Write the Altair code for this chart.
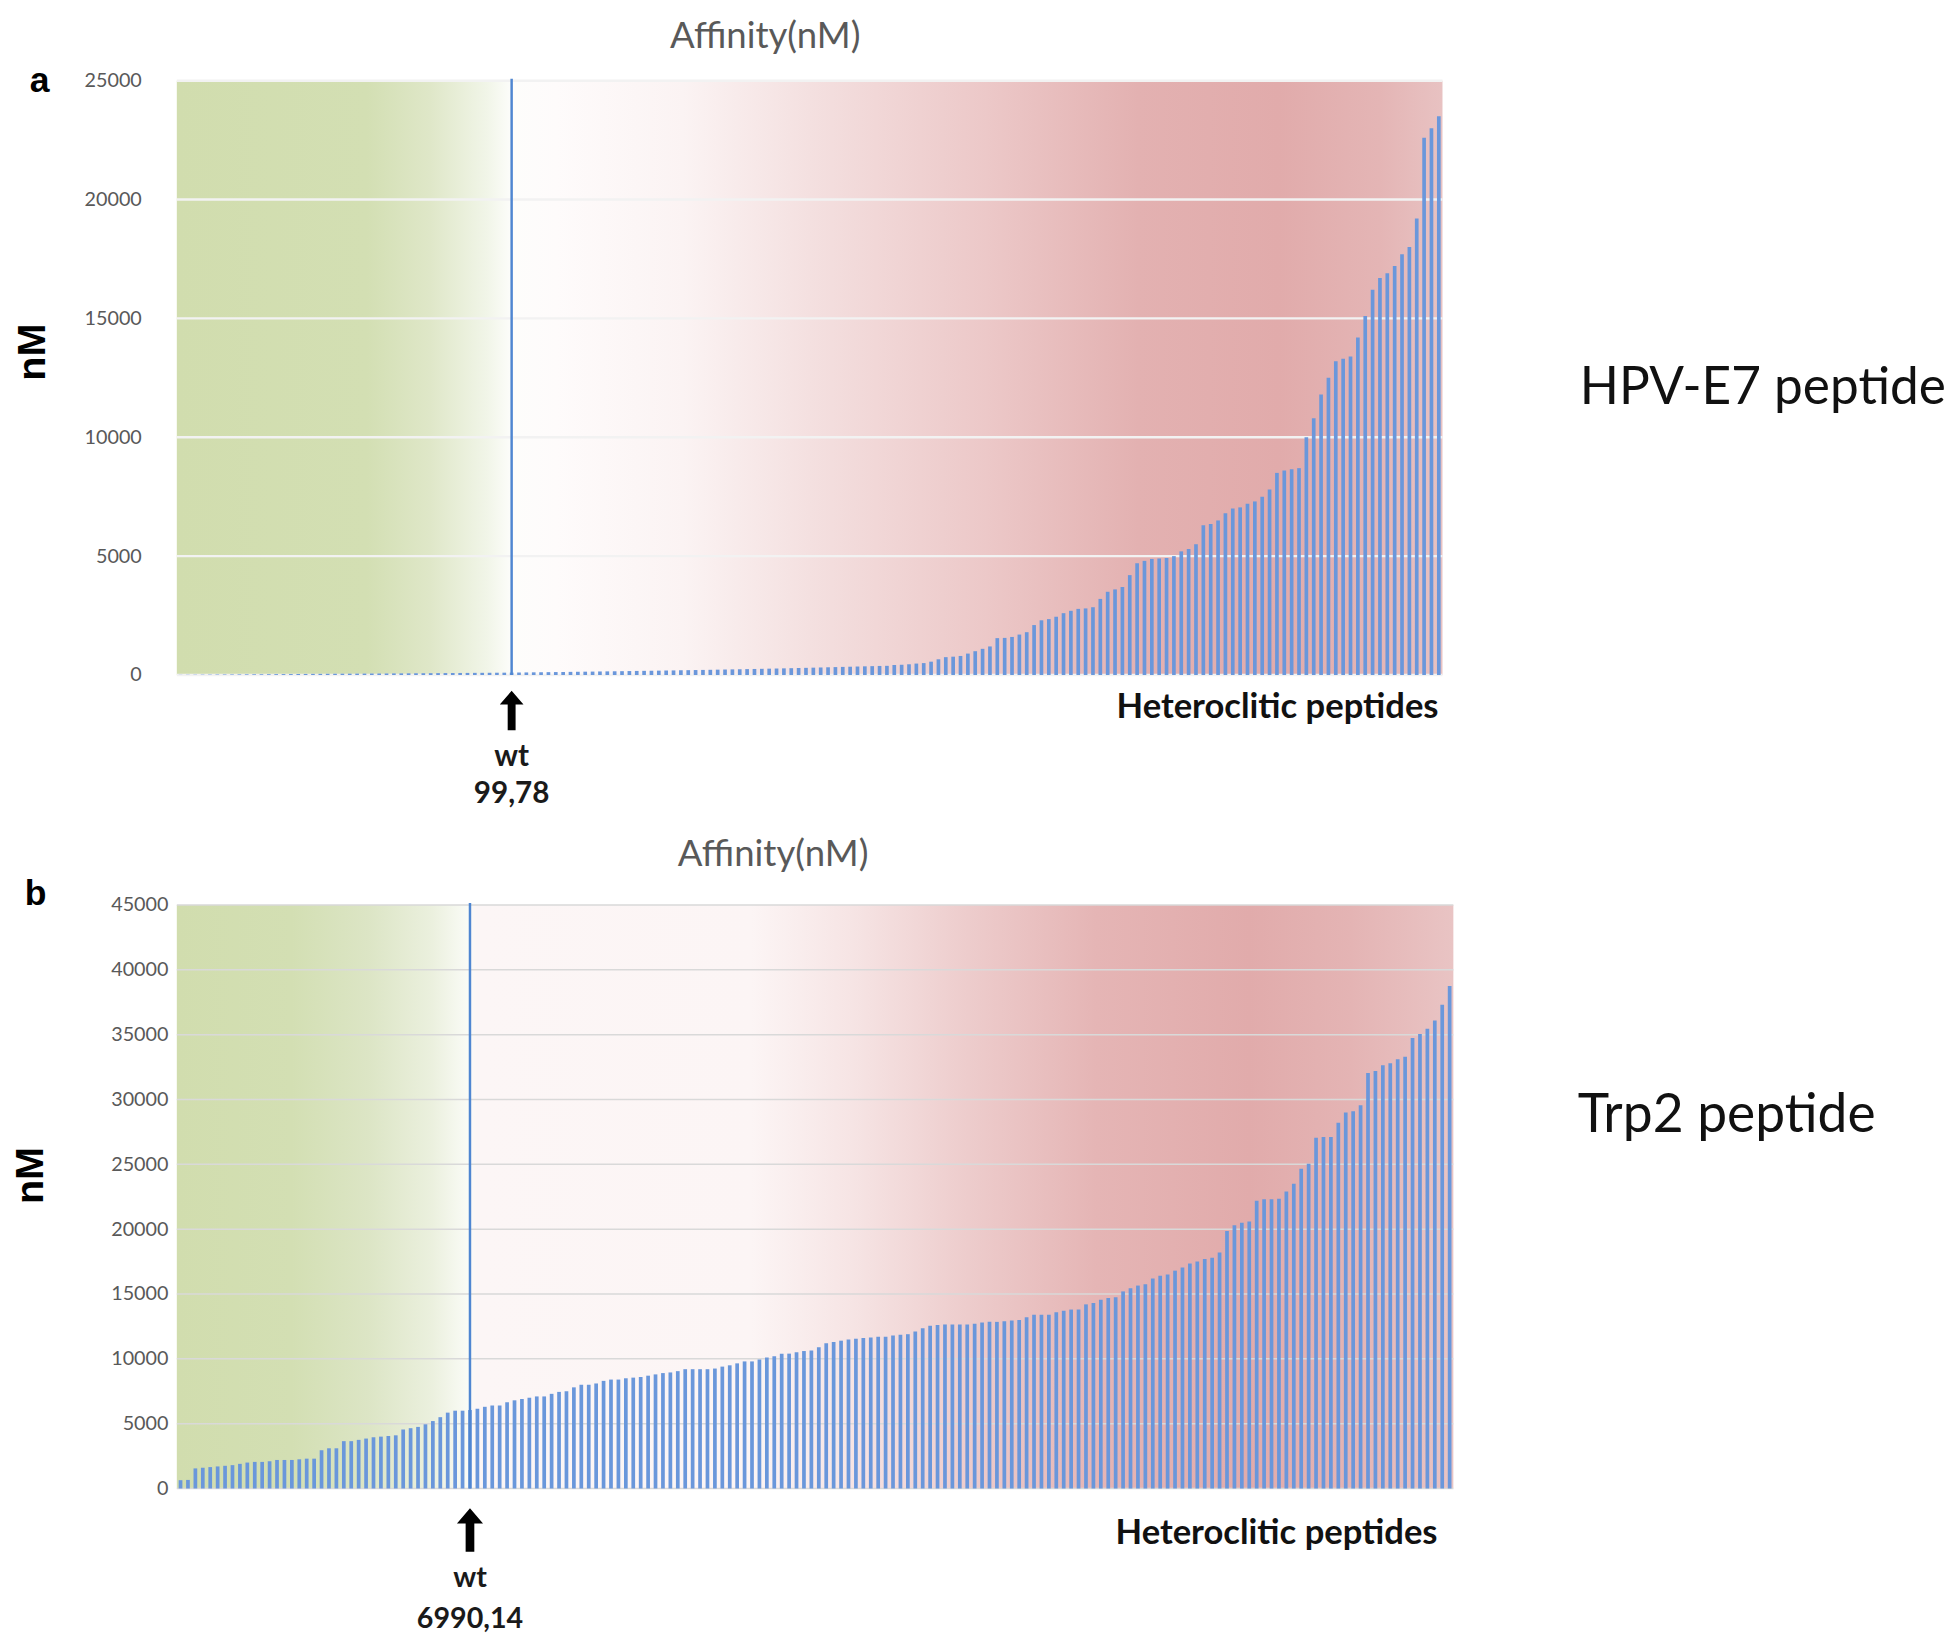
import altair as alt
import pandas as pd

# ---------------- data ----------------
# Panel a : HPV-E7 heteroclitic peptides, sorted affinity (nM)
a_below_wt = [6, 9, 11, 14, 16, 19, 21, 23, 25, 28, 29, 31, 33, 36, 38, 40, 42, 44, 47, 48,
              50, 52, 55, 56, 58, 60, 62, 63, 65, 68, 69, 71, 73, 75, 77, 79, 81, 84, 85, 87,
              89, 91, 93, 95, 97]
a_wt_value = 99.78
a_low = [104, 108, 112, 115, 119, 123, 126, 131, 135, 139, 143, 148, 152, 156, 160, 165, 170,
         174, 178, 183, 188, 192, 197, 203, 208, 213, 218, 224, 230, 236, 241, 247, 253, 259,
         266, 272, 279, 286, 293, 300, 308, 316, 324, 332, 340, 348, 356, 364, 372]
a_mid = [380, 385, 420, 430, 450, 480, 500, 560, 660, 750, 770, 800, 900, 1000, 1100, 1200,
         1550, 1560, 1600, 1700, 1800, 2100, 2300, 2350, 2450, 2600, 2700, 2780, 2800, 2850,
         3200, 3500, 3600, 3700, 4200, 4700, 4800]
a_high = [4880, 4900, 4920, 5000, 5200, 5300, 5500, 6300, 6350, 6500, 6800, 7000, 7050, 7200,
          7300, 7500, 7800, 8500, 8600, 8650, 8700, 10000, 10800, 11800, 12500, 13200, 13300,
          13400, 14200, 15100, 16200, 16700, 16900, 17200, 17700, 18000, 19200, 22600, 23000,
          23500]
a_ticks = [0, 5000, 10000, 15000, 20000, 25000]
a_wt_label = "99,78"

# Panel b : Trp2 heteroclitic peptides
b_below_wt = [640, 660, 1550, 1600, 1650, 1700, 1750, 1800, 1900, 2000, 2050, 2050, 2100, 2200,
              2200, 2200, 2250, 2300, 2300, 2950, 3100, 3100, 3650, 3650, 3750, 3850, 3950, 4000,
              4050, 4100, 4550, 4650, 4750, 4950, 5200, 5500, 5850, 6000, 6000]
b_wt_value = 6050
b_seg2 = [6150, 6300, 6400, 6400, 6650, 6800, 6900, 7000, 7100, 7100, 7300, 7450, 7500, 7800,
          8000, 8000, 8100, 8300, 8400]
b_seg3 = [8400, 8500, 8550, 8600, 8700, 8800, 8900, 8950, 9050, 9200, 9200, 9200, 9200, 9250,
          9400, 9500, 9650, 9800, 9800, 9950, 10100, 10200, 10400, 10400, 10500, 10600, 10650,
          10900, 11200, 11300, 11400, 11500, 11550, 11600, 11650, 11700, 11700, 11800, 11850,
          11900, 12100, 12350, 12550, 12600, 12650, 12650, 12650, 12650, 12700, 12800, 12850,
          12850, 12900, 12950, 13000]
b_seg4 = [13200, 13400, 13400, 13400, 13600, 13700, 13800, 13800, 14200, 14300, 14550, 14700,
          14750, 15200, 15450, 15650, 15750, 16200, 16400, 16500, 16800, 17050, 17350, 17500,
          17700, 17800, 18200, 19850, 20300, 20500, 20600, 22200, 22300, 22300, 22350, 22900,
          23500, 24650, 25050, 27050, 27100, 27100, 28200, 29000, 29100, 29550, 32050, 32200,
          32650, 32800, 33100, 33300, 34750, 35050, 35450, 36100, 37300, 38750]
b_ticks = [0, 5000, 10000, 15000, 20000, 25000, 30000, 35000, 40000, 45000]
b_wt_label = "6990,14"

a_values = a_below_wt + [a_wt_value] + a_low + a_mid + a_high
a_wt_index = len(a_below_wt)
b_values = b_below_wt + [b_wt_value] + b_seg2 + b_seg3 + b_seg4
b_wt_index = len(b_below_wt)

# ---------------- styling ----------------
BAR = "#6a97db"
WT_LINE = "#4f86d1"
ARROW = "M0,-1 L0.6,-0.3 L0.2,-0.3 L0.2,1 L-0.2,1 L-0.2,-0.3 L-0.6,-0.3 Z"

a_stops = [(0.0, "#d1ddae"), (0.15, "#d3dfb3"), (0.2, "#dfe7c8"), (0.245, "#f1f5e8"),
           (0.265, "#fdfdfb"), (0.30, "#fefbfb"), (0.40, "#fbf3f3"), (0.50, "#f4e0e0"),
           (0.64, "#ecc8c8"), (0.76, "#e3b1b1"), (0.87, "#e1abab"), (0.95, "#e4b5b5"),
           (1.0, "#e8c2c2")]
b_stops = [(0.0, "#d1ddae"), (0.09, "#d3dfb3"), (0.15, "#dce5c5"), (0.2, "#ebf0de"),
           (0.228, "#fafbf6"), (0.235, "#fcf6f6"), (0.45, "#fcf5f5"), (0.53, "#f6e4e4"),
           (0.62, "#edcccc"), (0.72, "#e5b5b5"), (0.84, "#e1abab"), (0.92, "#e4b4b4"),
           (1.0, "#e9c4c4")]

one = pd.DataFrame({"k": [0]})


def txt(s, x, y, size, weight="normal", color="black", align="center", angle=0,
        font="Lato"):
    return alt.Chart(one).mark_text(
        text=s, fontSize=size, fontWeight=weight, color=color, align=align,
        angle=angle, font=font, baseline="middle"
    ).encode(x=alt.value(x), y=alt.value(y))


def panel(values, wt_index, wt_label, ticks, ymax, width, height, stops, grid_color,
          grid_width, label_pad, letter, side_label, ann):
    df = pd.DataFrame({
        "idx": list(range(len(values))),
        "value": values,
        "is_wt": [i == wt_index for i in range(len(values))],
    })
    xscale = alt.Scale(paddingInner=0.5, paddingOuter=0.25)
    yscale = alt.Scale(domain=[0, ymax], nice=False, zero=True)
    X = alt.X("idx:O", scale=xscale, axis=None)
    yaxis = alt.Axis(values=ticks, grid=False, domain=False, ticks=False, format="d",
                     labelFont="Lato", labelFontSize=20, labelColor="#595959",
                     labelPadding=label_pad, title=None)

    bg = alt.Chart(one).mark_rect(
        color=alt.Gradient(
            gradient="linear",
            stops=[alt.GradientStop(offset=o, color=c) for o, c in stops],
            x1=0, x2=1, y1=0, y2=0,
        )
    ).encode(x=alt.value(0), x2=alt.value("width"), y=alt.value(0), y2=alt.value("height"))

    grid = alt.Chart(pd.DataFrame({"tick": ticks})).mark_rule(
        color=grid_color, strokeWidth=grid_width
    ).encode(y=alt.Y("tick:Q", scale=yscale, axis=yaxis),
             x=alt.value(0), x2=alt.value("width"))

    bars = alt.Chart(df).mark_bar(color=BAR).encode(
        x=X,
        y=alt.Y("value:Q", scale=yscale, axis=yaxis),
    )

    wt_src = alt.Chart(df).transform_filter("datum.is_wt")
    wt_line = wt_src.mark_rule(color=WT_LINE, strokeWidth=2.5).encode(
        x=X, y=alt.value(-2), y2=alt.value("height"))
    arrow = wt_src.mark_point(shape=ARROW, filled=True, color="black", opacity=1,
                              strokeWidth=0, size=ann["arrow_size"]).encode(
        x=X, y=alt.value(height + ann["arrow_y"]))
    wt_txt = wt_src.mark_text(text="wt", fontSize=ann["wt_size"], fontWeight="bold",
                              font="Lato", color="#1a1a1a").encode(
        x=X, y=alt.value(height + ann["wt_y"]))
    wt_val = wt_src.mark_text(fontSize=ann["wt_size"], fontWeight="bold", font="Lato",
                              color="#1a1a1a").encode(
        x=X, y=alt.value(height + ann["val_y"]), text=alt.value(wt_label))

    texts = [
        txt("Affinity(nM)", ann["title_x"], ann["title_y"], 37, color="#595959"),
        txt(letter, ann["letter_x"], ann["letter_y"], 36, weight="bold",
            font="Liberation Sans"),
        txt("nM", ann["nm_x"], ann["nm_y"], 40, weight="bold", angle=270,
            font="Liberation Sans"),
        txt("Heteroclitic peptides", ann["het_x"], height + ann["het_y"], 35,
            weight="bold", align="right", color="#111111"),
        txt(side_label, ann["side_x"], ann["side_y"], ann["side_size"], align="left",
            color="#111111"),
    ]

    return alt.layer(bg, grid, bars, wt_line, arrow, wt_txt, wt_val, *texts).properties(
        width=width, height=height)


chart_a = panel(
    a_values, a_wt_index, a_wt_label, a_ticks, 25000, 1282, 602, a_stops, "#f2f2f2", 2.5,
    36, "a", "HPV-E7 peptide",
    dict(arrow_size=1600, arrow_y=36, wt_y=83, val_y=121, wt_size=30, title_x=596,
         title_y=-44, letter_x=-139, letter_y=1, nm_x=-146, nm_y=275, het_x=1278,
         het_y=33, side_x=1421, side_y=312, side_size=52),
)
chart_b = panel(
    b_values, b_wt_index, b_wt_label, b_ticks, 45000, 1293, 591, b_stops, "#d9d9d9", 1.5,
    9, "b", "Trp2 peptide",
    dict(arrow_size=1936, arrow_y=42, wt_y=91, val_y=132, wt_size=29, title_x=604,
         title_y=-51, letter_x=-143, letter_y=-11, nm_x=-148, nm_y=274, het_x=1277,
         het_y=45, side_x=1419, side_y=214, side_size=54),
)

chart = alt.vconcat(chart_a, chart_b, spacing=233, bounds="flush").properties(
    padding={"left": 3, "top": 0, "right": 0, "bottom": 5}
).configure_view(stroke=None)

chart.save("out.html", embed_options={"renderer": "svg", "actions": False})
